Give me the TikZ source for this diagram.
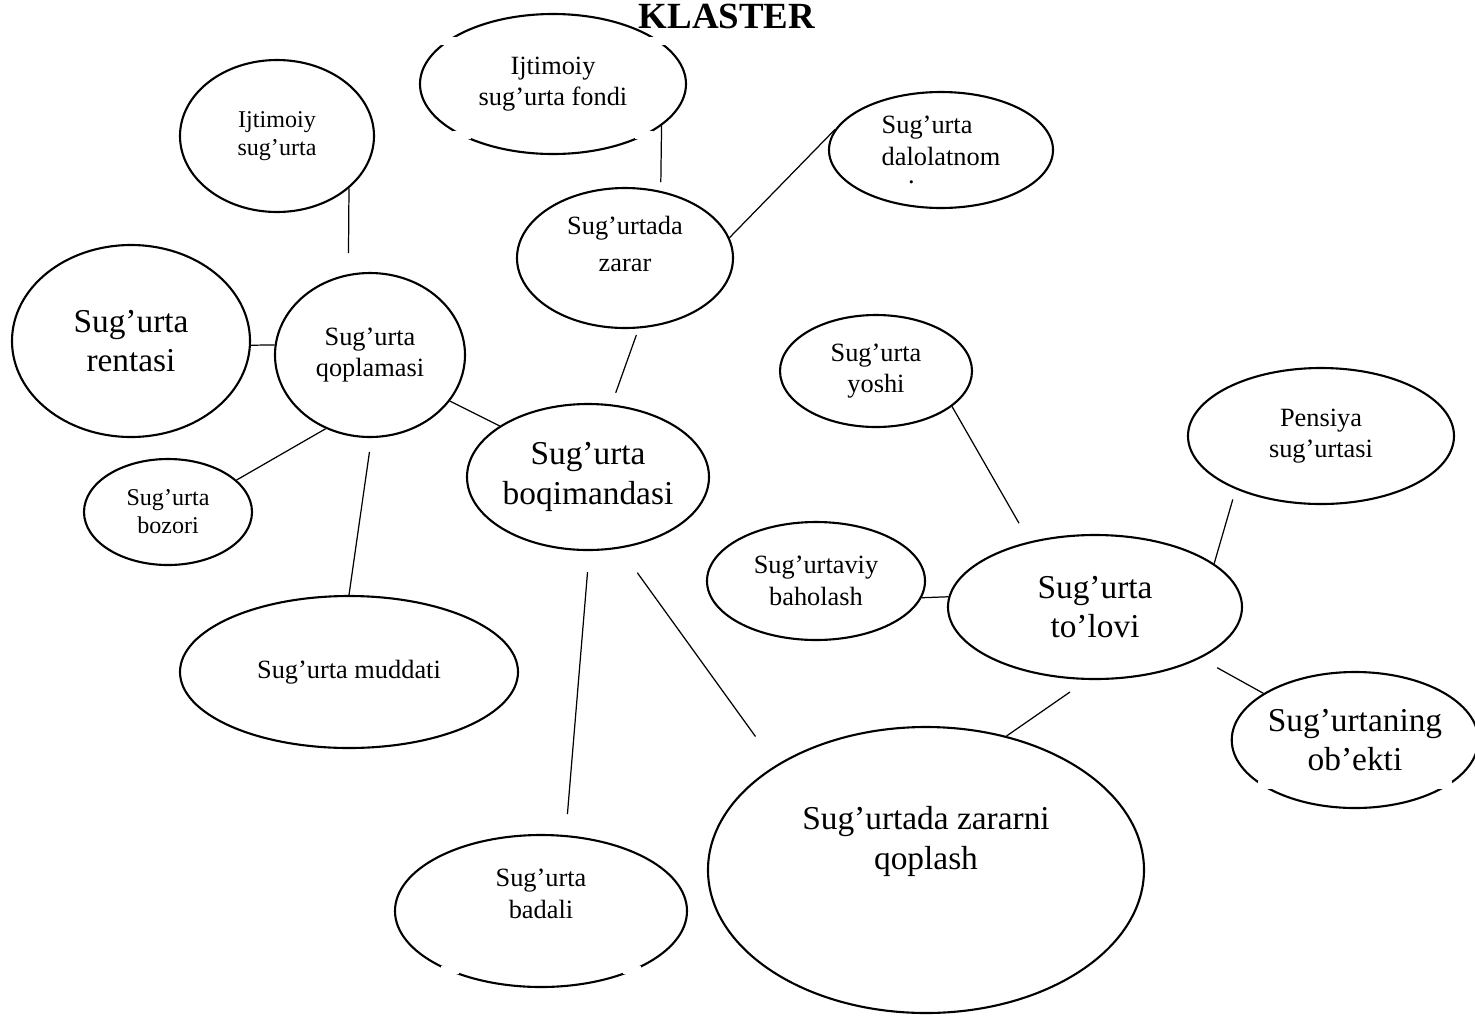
\documentclass[tikz,border=0pt]{standalone}
\usepackage{fontspec}
\setmainfont{Liberation Serif}
\usetikzlibrary{shapes.geometric}

\begin{document}
\begin{tikzpicture}[
      x=0.02cm, y=-0.02cm,
      bubble/.style 2 args={
         ellipse,
         draw,
         line width=1.2pt,
         inner sep=0pt,
         minimum width=#1*0.02cm,
         minimum height=#2*0.02cm,
         align=center},
      smalltxt/.style={font=\fontsize{13.7}{15.9}\selectfont},
      midtxt/.style={font=\fontsize{15}{18}\selectfont},
      bigtxt/.style={font=\fontsize{19}{22.5}\selectfont},
      link/.style={draw, line width=0.7pt},
      gap/.style={fill=white}
      ]
      \useasboundingbox (0,0) rectangle (1475,1015);

      \node[font=\bfseries\fontsize{21}{25}\selectfont, anchor=base] (title) at (727,28) {KLASTER};

      \node[bubble={266}{140}, midtxt] (fondi) at (553,84) {Ijtimoiy\\sug’urta fondi};
      \node[bubble={224}{116}, midtxt, align=left] (dalol) at (941,150) {Sug’urta\\dalolatnom\\[-8pt]\hspace*{1em}.};
      \node[bubble={194}{152}, smalltxt] (ijt) at (277,136) {Ijtimoiy\\sug’urta};
      \node[bubble={216}{140}, midtxt] (zarar) at (625,258) {Sug’urtada\\[3pt]zarar\\[-2pt]~};
      \node[bubble={238}{192}, bigtxt] (renta) at (131,341) {Sug’urta\\rentasi};
      \node[bubble={190}{164}, midtxt] (qopl) at (370,355) {Sug’urta\\qoplamasi};
      \node[bubble={168}{106}, smalltxt] (bozor) at (168,512) {Sug’urta\\bozori};
      \node[bubble={242}{146}, bigtxt] (boqim) at (588,477) {Sug’urta\\boqimandasi};
      \node[bubble={338}{152}, midtxt] (muddat) at (349,672) {Sug’urta muddati};
      \node[bubble={292}{152}, midtxt] (badal) at (541,911) {Sug’urta\\badali\\[2pt]~};
      \node[bubble={436}{286}, bigtxt] (qoplash) at (926,870) {Sug’urtada zararni\\qoplash\\[14pt]~};
      \node[bubble={192}{112}, midtxt] (yosh) at (876,371) {Sug’urta\\yoshi};
      \node[bubble={266}{136}, midtxt] (pensiya) at (1321,436) {Pensiya\\sug’urtasi};
      \node[bubble={218}{118}, midtxt] (baho) at (816,581) {Sug’urtaviy\\baholash};
      \node[bubble={294}{144}, bigtxt] (tolov) at (1095,607) {Sug’urta\\to’lovi};
      \node[bubble={236}{136}, bigtxt] (obekt) at (1355,740) {Sug’urtaning\\ob’ekti};

      % breaks in the outlines
      \foreach \x/\y in {448/41, 658/41, 462/135, 644/135, 450/970, 632/970, 1267/785, 1443/785}
         \fill[gap] (\x-9,\y-4) rectangle (\x+9,\y+4);

    \foreach \a/\i/\b/\j/\s/\t in {% from/angle/to/angle/shorten start/shorten end
      fondi/-21/zarar/62/0pt/5pt,
      zarar/11/dalol/169/0pt/0pt,
      ijt/-36/qopl/105/0pt/12pt,
      renta/-2/qopl/174/0pt/0pt,
      qopl/-30/boqim/150/0pt/0pt,
      qopl/-121/bozor/25/0pt/0pt,
      qopl/-89/muddat/90/8pt/0pt,
      zarar/-79/boqim/72/4pt/7pt,
      boqim/-89/badal/72/12pt/12pt,
      boqim/-66/qoplash/145/17pt/20pt,
      yosh/-25/tolov/135/0pt/12pt,
      pensiya/-148/tolov/20/6pt/0pt,
      baho/-9/tolov/176/0pt/0pt,
      tolov/-26/obekt/153/11pt/0pt,
      tolov/-96/qoplash/59/12pt/0pt}
       \draw[link, shorten <=\s, shorten >=\t] (\a.\i) -- (\b.\j);
\end{tikzpicture}
\end{document}
